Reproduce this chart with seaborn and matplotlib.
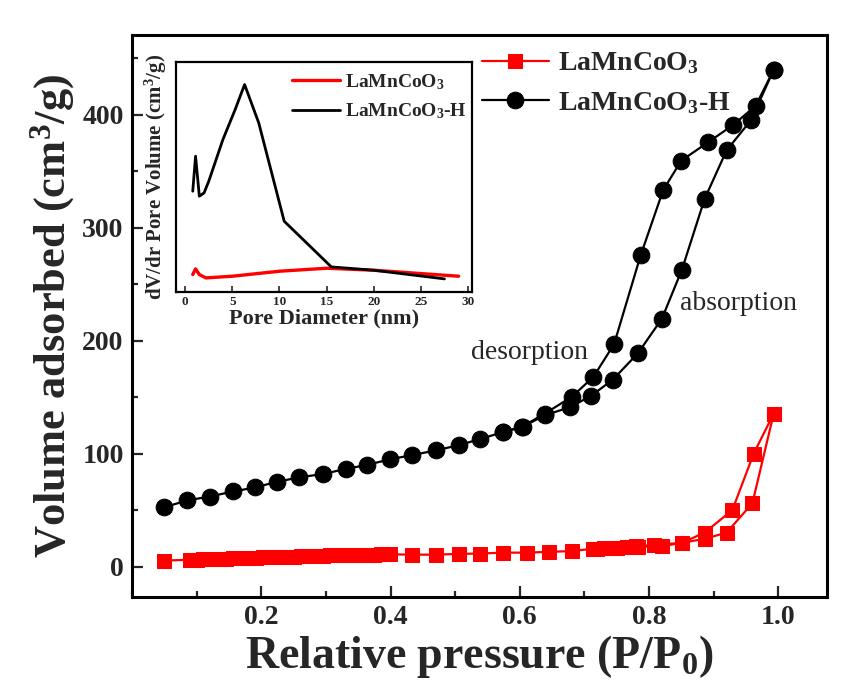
import numpy as np
import matplotlib
matplotlib.use("Agg")
import matplotlib.pyplot as plt
from matplotlib.ticker import MultipleLocator
import seaborn as sns

# main isotherm, LaMnCoO3-H (black circles)
h_ads_p = [0.050, 0.085, 0.120, 0.157, 0.190, 0.224, 0.259, 0.296, 0.331, 0.364,
           0.399, 0.434, 0.471, 0.506, 0.539, 0.574, 0.605, 0.639, 0.677, 0.710,
           0.744, 0.783, 0.820, 0.851, 0.886, 0.920, 0.958, 0.993]
h_ads_v = [52.5, 58.5, 62, 66.5, 70, 75, 79, 82, 86.5, 90,
           95, 98.7, 103, 107.5, 113, 119, 124, 134, 141, 151,
           165.5, 189, 219.5, 263, 325.5, 368.5, 395.5, 440]
h_des_p = [0.993, 0.965, 0.930, 0.892, 0.850, 0.822, 0.787, 0.746, 0.714, 0.681,
           0.639, 0.604, 0.574]
h_des_v = [440, 408, 391, 376, 359.5, 333.5, 275.5, 197, 168, 150.5,
           135.5, 124, 119]

# main isotherm, LaMnCoO3 (red squares)
r_ads_p = [0.050, 0.090, 0.100, 0.110, 0.122, 0.134, 0.145, 0.157, 0.168, 0.180,
           0.192, 0.203, 0.215, 0.226, 0.238, 0.250, 0.261, 0.273, 0.284, 0.296,
           0.307, 0.319, 0.331, 0.342, 0.354, 0.365, 0.375, 0.385, 0.399,
           0.434, 0.471, 0.506, 0.539, 0.574, 0.611, 0.646, 0.681, 0.714, 0.731,
           0.748, 0.766, 0.783, 0.820, 0.851, 0.886, 0.920, 0.960, 0.993]
r_ads_v = [5.3, 6.0, 6.2, 6.4, 6.6, 6.8, 7.0, 7.2, 7.4, 7.6,
           7.8, 8.0, 8.2, 8.4, 8.6, 8.8, 9.0, 9.2, 9.4, 9.6,
           9.8, 10.0, 10.2, 10.3, 10.4, 10.5, 10.6, 10.7, 10.8,
           10.5, 10.5, 11.2, 11.5, 12.3, 12.3, 13.0, 13.7, 15.8, 16.0,
           16.5, 17.0, 17.5, 18.0, 21.0, 24.5, 30.0, 56.0, 135.5]
r_des_p = [0.993, 0.962, 0.929, 0.886, 0.851, 0.808, 0.780, 0.750, 0.720]
r_des_v = [135.5, 100, 50, 30, 21, 19, 17.8, 16.8, 15.9]

# inset: pore size distribution
pore_d_h = [0.8, 1.1, 1.5, 2.0, 2.5, 4.0, 5.3, 6.3, 7.8, 10.5, 15.5, 20.0, 27.5]
pore_v_h = [0.0302, 0.0407, 0.0287, 0.0297, 0.0332, 0.0457, 0.0547, 0.0622,
            0.0507, 0.0212, 0.0075, 0.0065, 0.0039]
pore_d_r = [0.8, 1.1, 1.5, 2.2, 5.0, 10.0, 15.0, 20.0, 25.0, 29.0]
pore_v_r = [0.0052, 0.0069, 0.0052, 0.0042, 0.0047, 0.0062, 0.0071, 0.0065,
            0.0055, 0.0047]

sns.set_style("ticks")
plt.rcParams["font.family"] = ["Liberation Serif", "DejaVu Serif"]
plt.rcParams["font.weight"] = "bold"
plt.rcParams["mathtext.fontset"] = "custom"
plt.rcParams["mathtext.rm"] = "Liberation Serif:bold"
plt.rcParams["mathtext.it"] = "Liberation Serif:bold"
plt.rcParams["mathtext.bf"] = "Liberation Serif:bold"

fig = plt.figure(figsize=(8.41, 6.95), dpi=100)
ax = fig.add_axes([0.157, 0.141, 0.826, 0.809])

red = "#ff0000"
sns.lineplot(x=r_ads_p, y=r_ads_v, sort=False, ax=ax, color=red, lw=1.6,
             marker="s", markersize=9.5, markeredgecolor=red, label="LaMnCoO$_3$")
sns.lineplot(x=r_des_p, y=r_des_v, sort=False, ax=ax, color=red, lw=1.6,
             marker="s", markersize=9.5, markeredgecolor=red)
sns.lineplot(x=h_ads_p, y=h_ads_v, sort=False, ax=ax, color="black", lw=1.6,
             marker="o", markersize=12, markeredgecolor="black", label="LaMnCoO$_3$-H")
sns.lineplot(x=h_des_p, y=h_des_v, sort=False, ax=ax, color="black", lw=1.6,
             marker="o", markersize=12, markeredgecolor="black")

ax.set_xlim(0.0, 1.075)
ax.set_ylim(-27, 471)
ax.xaxis.set_minor_locator(MultipleLocator(0.1))
ax.yaxis.set_major_locator(MultipleLocator(100))
ax.yaxis.set_minor_locator(MultipleLocator(50))
ax.set_xticks([0.2, 0.4, 0.6, 0.8, 1.0])
ax.tick_params(which="major", direction="in", length=8, width=1.6, labelsize=20, pad=6)
ax.tick_params(which="minor", direction="in", length=4, width=1.6)
for lab in ax.get_xticklabels() + ax.get_yticklabels():
    lab.set_fontweight("bold")
for s in ax.spines.values():
    s.set_linewidth(2.2)
    s.set_color("black")

ax.set_xlabel("Relative pressure (P/P$_0$)", fontsize=33, fontweight="bold", labelpad=2)
ax.set_ylabel("Volume adsorbed (cm$^3$/g)", fontsize=32, fontweight="bold", labelpad=4)

ax.text(0.705, 190, "desorption", fontsize=20, fontweight="normal", ha="right", va="center")
ax.text(0.848, 233, "absorption", fontsize=20, fontweight="normal", ha="left", va="center")

ax.legend(loc="upper left", bbox_to_anchor=(0.504, 0.972), frameon=False,
          fontsize=20, handlelength=2.4, labelspacing=0.5, handletextpad=0.32,
          borderpad=0, borderaxespad=0)

# inset
ins = fig.add_axes([0.209, 0.580, 0.352, 0.331])
sns.lineplot(x=pore_d_r, y=pore_v_r, sort=False, ax=ins, color=red, lw=2.4,
             label="LaMnCoO$_3$")
sns.lineplot(x=pore_d_h, y=pore_v_h, sort=False, ax=ins, color="black", lw=2.0,
             label="LaMnCoO$_3$-H")
ins.set_xlim(-1, 30.4)
ins.set_ylim(0, 0.069)
ins.set_yticks([])
ins.set_xticks([0, 5, 10, 15, 20, 25, 30])
ins.tick_params(direction="in", length=4, width=1.2, labelsize=9.5, pad=3)
for lab in ins.get_xticklabels():
    lab.set_fontweight("bold")
for s in ins.spines.values():
    s.set_linewidth(1.6)
    s.set_color("black")
ins.set_xlabel("Pore Diameter (nm)", fontsize=16, fontweight="bold", labelpad=0)
ins.set_ylabel("dV/dr Pore Volume (cm$^3$/g)", fontsize=15, fontweight="bold", labelpad=5)
ins.legend(loc="upper left", bbox_to_anchor=(0.392, 0.955), frameon=False,
           fontsize=14, handlelength=2.5, labelspacing=0.5, handletextpad=0.25,
           borderpad=0, borderaxespad=0)

fig.savefig("out.png", dpi=100)
